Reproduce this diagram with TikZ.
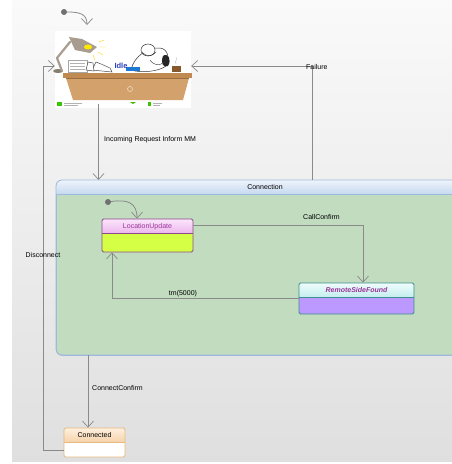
\documentclass[tikz,border=0pt]{standalone}
\usepackage{fontspec}
\setmainfont{Liberation Sans}
\usetikzlibrary{arrows.meta}

\definecolor{wire}{HTML}{8A8A8A}
\definecolor{dotgray}{HTML}{707070}
\definecolor{regiongreen}{HTML}{C1DCBF}
\definecolor{regionedge}{HTML}{9DB9DB}
\definecolor{regiontop}{HTML}{EEF4FB}
\definecolor{regionbot}{HTML}{C6D9F0}
\definecolor{locedge}{HTML}{8E4A8E}
\definecolor{loctop}{HTML}{FBE6FB}
\definecolor{locbot}{HTML}{EDB6ED}
\definecolor{locbody}{HTML}{D4FF44}
\definecolor{rsfedge}{HTML}{3E8F8F}
\definecolor{rsftop}{HTML}{F0FCFC}
\definecolor{rsfbot}{HTML}{C2EEEE}
\definecolor{rsfbody}{HTML}{BB99FF}
\definecolor{conedge}{HTML}{E6B87C}
\definecolor{contop}{HTML}{FEF0E0}
\definecolor{conbot}{HTML}{F6D2A8}
\definecolor{statetext}{HTML}{993399}
\definecolor{desktop}{HTML}{C08A50}
\definecolor{deskbody}{HTML}{D3A26C}
\definecolor{lampgray}{HTML}{A89C8E}
\definecolor{idleblue}{HTML}{2B3FBF}

\tikzset{
  x=1pt, y=-1pt,
  txt/.style={font=\fontsize{7}{8}\selectfont, inner sep=0pt},
  tr/.style={draw=wire, line width=0.8pt, -{Straight Barb[length=6pt,width=11pt,line width=0.7pt]}},
  tronly/.style={draw=wire, line width=0.8pt},
  initdot/.style={circle, fill=dotgray, minimum size=6pt, inner sep=0pt},
  statebox/.style n args={4}{draw=#1, line width=0.8pt, rounded corners=1.5pt, inner sep=0pt,
    path picture={
      \fill[#4] (path picture bounding box.south west) rectangle (path picture bounding box.north east);
      \shade[top color=#2, bottom color=#3] (path picture bounding box.north west)
        rectangle ([yshift=-14.5pt]path picture bounding box.north east);
      \draw[#1, line width=0.8pt] ([yshift=-14.5pt]path picture bounding box.north west)
        -- ([yshift=-14.5pt]path picture bounding box.north east);
    }},
}

\begin{document}
\begin{tikzpicture}
\useasboundingbox (0,0) rectangle (452,464);
\clip (0,0) rectangle (452,464);

% page background
\fill[white] (0,0) rectangle (452,464);
\shade[top color=white!98!black, bottom color=gray!25] (12,0) rectangle (452,461);

% ---------- Idle state (clipart) ----------
\fill[white] (55,31) rectangle (191,108);
% lamp
\fill[lampgray!80!black] (58,71) ellipse (5pt and 2pt);
\draw[lampgray, line width=2.2pt, line cap=round, line join=round] (62,71) -- (57,58) -- (70,42);
\fill[lampgray] (69,37) -- (82,39) -- (97,47) -- (90,53) -- (75,50) -- cycle;
\fill[yellow!90!orange] (88,47) ellipse (4pt and 2.5pt);
\draw[yellow!70!orange, line width=0.4pt] (99,42) -- (104,40) (100,47) -- (106,47) (98,52) -- (103,55) (93,55) -- (95,60);
% papers
\fill[white] (68,60) rectangle (87,72);
\draw[gray!70, line width=0.4pt] (68,60) rectangle (87,72);
\foreach \yy in {63,66,69} \draw[gray!60, line width=0.3pt] (70,\yy) -- (85,\yy);
% legs on the desk
\draw[black!70, line width=0.5pt, fill=white] (92,70) -- (96,62) -- (101,64) -- (110,68) -- (112,72) -- cycle;
\draw[black!70, line width=0.5pt, fill=white] (86,70) -- (88,62) -- (93,63) -- (94,71) -- cycle;
% person resting on the desk
\draw[black!80, line width=0.5pt, fill=white] (131,70) .. controls (134,56) and (148,47) .. (160,48)
  .. controls (168,49) and (170,58) .. (166,66) .. controls (158,72) and (140,73) .. cycle;
\draw[black!80, line width=0.5pt, fill=white] (148,50) ellipse (7pt and 6pt);
\draw[black!80, line width=0.4pt] (142,52) .. controls (146,57) and (152,57) .. (156,52);
\fill[black!85] (163,56) .. controls (168,52) and (172,60) .. (168,66) .. controls (164,68) and (160,64) .. cycle;
\draw[black!80, line width=0.4pt] (150,60) .. controls (154,66) and (160,66) .. (164,62);
% tie / phone
\fill[idleblue!70!cyan] (126,67) rectangle (140,71);
% cup
\fill[brown!70!black] (172,66) rectangle (181,72);
\draw[gray!60, line width=0.3pt] (176,64) .. controls (174,61) and (178,60) .. (176,57);
% desk
\fill[desktop] (63,73) rectangle (192,78);
\fill[deskbody] (66,78) -- (189,78) -- (183,100) -- (73,100) -- cycle;
\draw[desktop!80!black, line width=0.3pt] (66,78) -- (189,78);
\draw[white!80!deskbody, line width=0.4pt] (130,89) circle (2.5pt);
% footer strip
\fill[green!55!olive] (57,102) rectangle (62,106);
\draw[gray!60, line width=0.5pt] (64,103) -- (82,103) (64,105) -- (78,105);
\fill[green!55!olive] (148,102) rectangle (151,106);
\draw[gray!60, line width=0.5pt] (153,103) -- (162,103) (153,105) -- (160,105);
\fill[green!50!olive] (130,102) -- (136,102) -- (133,104) -- cycle;

\node[inner sep=0pt, minimum width=136pt, minimum height=76pt] (idle) at (123,66) {};
\node[txt, text=idleblue, font=\fontsize{7.5}{8}\selectfont\bfseries] (idlelbl) at (121,66) {Idle};

% top-level initial pseudo state
\node[initdot] (init) at (64,12) {};
\coordinate (initend) at (87,25);
\draw[tr] (init) .. controls (80,12) and (87,14) .. (initend);

% ---------- Connection composite state ----------
\node[draw=regionedge, line width=0.8pt, fill=regiongreen, rounded corners=6pt,
      minimum width=414pt, minimum height=175pt, anchor=north west, inner sep=0pt] (conn) at (56,180) {};
\begin{scope}
  \clip[rounded corners=6pt] (56,180) rectangle (470,355);
  \shade[top color=regiontop, bottom color=regionbot] (56,180) rectangle (470,194);
  \draw[regionedge, line width=0.8pt] (56,194) -- (470,194);
\end{scope}
\draw[regionedge, line width=0.8pt, rounded corners=6pt] (56,180) rectangle (470,355);
\node[txt] (connlbl) at (265,187) {Connection};

% inner states
\node[statebox={locedge}{loctop}{locbot}{locbody}, minimum width=91pt, minimum height=33pt] (loc) at (147.5,235.5) {};
\node[txt, text=statetext] (loclbl) at (147.5,226.5) {LocationUpdate};

\node[statebox={rsfedge}{rsftop}{rsfbot}{rsfbody}, minimum width=115pt, minimum height=31pt] (rsf) at (356.5,298.5) {};
\node[txt, text=statetext, font=\fontsize{7}{8}\selectfont\bfseries\itshape] (rsflbl) at (356.5,290) {RemoteSideFound};

% inner initial pseudo state
\node[initdot] (init2) at (108,202) {};
\draw[tr] (init2) .. controls (128,199) and (137,203) .. ([xshift=-10.5pt]loc.north);

% CallConfirm
\coordinate (ccstart) at ([yshift=10.5pt]loc.east);
\draw[tr] (ccstart) -| ([xshift=6.5pt]rsf.north);
\node[txt, anchor=west] (cclbl) at (303,217) {CallConfirm};

% tm(5000)
\draw[tr] (rsf.west) -| ([xshift=-35.5pt]loc.south);
\node[txt] (tmlbl) at (183,294) {tm(5000)};

% ---------- Connected state ----------
\node[statebox={conedge}{contop}{conbot}{white}, minimum width=61pt, minimum height=29pt] (con) at (94.5,442.5) {};
\node[txt] (conlbl) at (94.5,435) {Connected};

% ---------- transitions between top-level states ----------
% Incoming Request Inform MM
\coordinate (inA) at ([xshift=-24.5pt]idle.south);
\draw[tr] (inA) -- (inA |- conn.north);
\node[txt, anchor=west] (inlbl) at (104,140) {Incoming Request Inform MM};

% Failure
\coordinate (failA) at ([xshift=49pt]conn.north);
\draw[tr] (failA) |- (idle.east);
\node[txt, anchor=west] (faillbl) at (306,67) {Failure};

% ConnectConfirm
\coordinate (ccA) at (88,355);
\draw[tr] (ccA) -- (ccA |- con.north);
\node[txt, anchor=west] (cflbl) at (92,388) {ConnectConfirm};

% Disconnect
\coordinate (discA) at ([yshift=-7.5pt]con.west);
\draw[tr] (discA) -- ++(-20,0) |- (idle.west);
\node[txt] (disclbl) at (43,255) {Disconnect};
\end{tikzpicture}
\end{document}
